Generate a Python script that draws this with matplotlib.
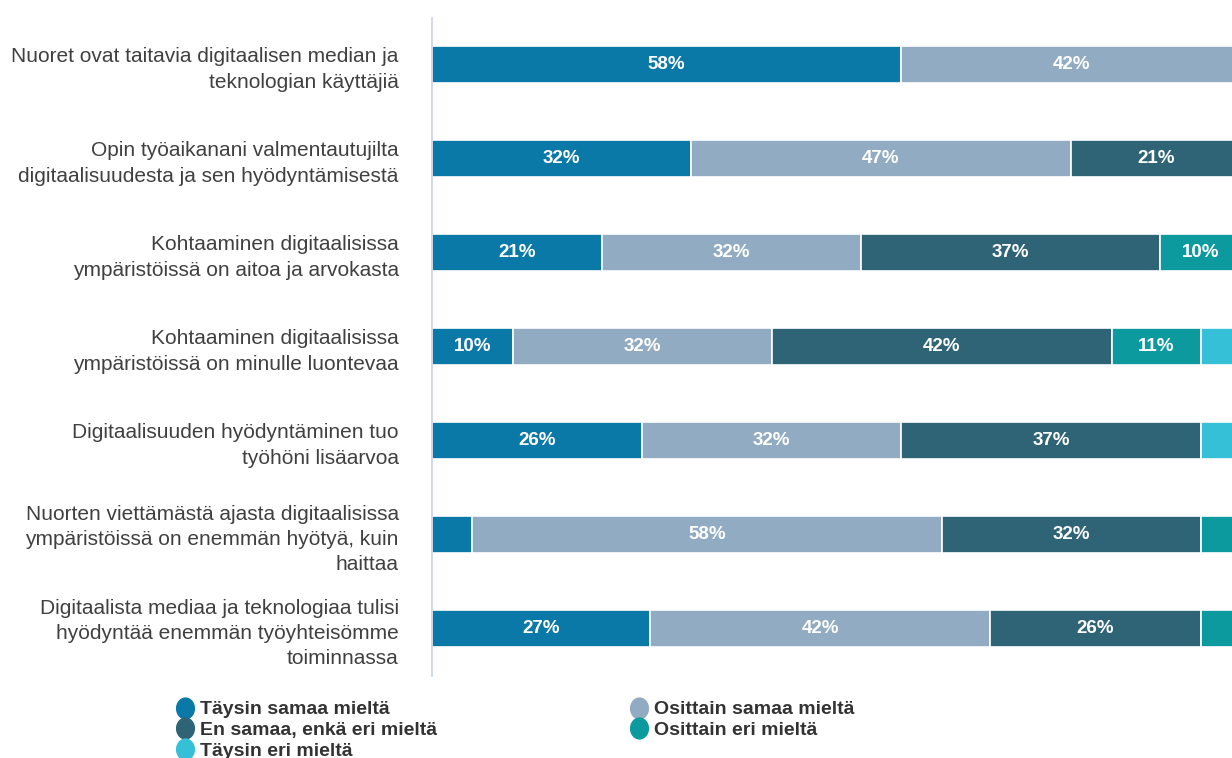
import numpy as np
import matplotlib.pyplot as plt
from matplotlib.lines import Line2D

plt.rcParams['font.family'] = ['Liberation Sans', 'DejaVu Sans']

categories = [
    "Nuoret ovat taitavia digitaalisen median ja\nteknologian käyttäjiä",
    "Opin työaikanani valmentautujilta\ndigitaalisuudesta ja sen hyödyntämisestä",
    "Kohtaaminen digitaalisissa\nympäristöissä on aitoa ja arvokasta",
    "Kohtaaminen digitaalisissa\nympäristöissä on minulle luontevaa",
    "Digitaalisuuden hyödyntäminen tuo\ntyöhöni lisäarvoa",
    "Nuorten viettämästä ajasta digitaalisissa\nympäristöissä on enemmän hyötyä, kuin\nhaittaa",
    "Digitaalista mediaa ja teknologiaa tulisi\nhyödyntää enemmän työyhteisömme\ntoiminnassa",
]

series_names = ["Täysin samaa mieltä", "Osittain samaa mieltä",
                "En samaa, enkä eri mieltä", "Osittain eri mieltä",
                "Täysin eri mieltä"]
taysin_samaa = [58, 32, 21, 10, 26, 5, 27]
osittain_samaa = [42, 47, 32, 32, 32, 58, 42]
en_samaa = [0, 21, 37, 42, 37, 32, 26]
osittain_eri = [0, 0, 10, 11, 0, 5, 5]
taysin_eri = [0, 0, 0, 5, 5, 0, 0]

colors = ["#0b79a8", "#91abc3", "#2e6476", "#0c9a9f", "#36c0d8"]

W, H = 1232, 758
fig = plt.figure(figsize=(W / 100, H / 100), dpi=100)
# axis runs from x=432 px to about 1241 px, i.e. past the right edge (cropped)
ax = fig.add_axes([432 / W, 1 - 675.5 / H, 809 / W, 658 / H])

y = np.arange(len(categories))
left = np.zeros(len(categories))
all_series = [taysin_samaa, osittain_samaa, en_samaa, osittain_eri, taysin_eri]
for vals, col in zip(all_series, colors):
    vals = np.array(vals, dtype=float)
    bars = ax.barh(y, vals, left=left, height=0.395, color=col,
                   edgecolor="white", linewidth=1.2)
    for b, v in zip(bars, vals):
        if v >= 10:
            ax.text(b.get_x() + b.get_width() / 2, b.get_y() + b.get_height() / 2,
                    f"{int(v)}%", ha="center", va="center", color="white",
                    fontsize=13.5, fontweight="bold")
    left += vals

ax.set_xlim(0, 100)
ax.set_ylim(len(categories) - 0.5, -0.5)
ax.set_yticks(y)
ax.set_yticklabels(categories, fontsize=15, color="#404040", ha="right",
                   linespacing=1.4)
ax.tick_params(axis="y", length=0, pad=24)
ax.set_xticks([])
for s in ["top", "right", "bottom"]:
    ax.spines[s].set_visible(False)
ax.spines["left"].set_color("#c9d3e6")
ax.spines["left"].set_linewidth(1.2)

# slightly tall ellipse markers like the original legend
t = np.linspace(0, 2 * np.pi, 40)
ellipse = np.column_stack([0.85 * np.cos(t), np.sin(t)])
order = [0, 2, 4, 1, 3]
handles = [Line2D([], [], linestyle="none", marker=ellipse, markersize=15,
                  markerfacecolor=colors[i], markeredgecolor=colors[i])
           for i in order]
labels = [series_names[i] for i in order]
fig.legend(handles, labels, loc="upper left", bbox_to_anchor=(166 / W, 1 - 691 / H),
           ncol=2, frameon=False, handletextpad=0.25, columnspacing=9.9,
           labelspacing=0.16, handlelength=1.0, borderpad=0,
           prop={"size": 14, "weight": "bold"}, labelcolor="#333333")

fig.savefig("out.png", dpi=100)
